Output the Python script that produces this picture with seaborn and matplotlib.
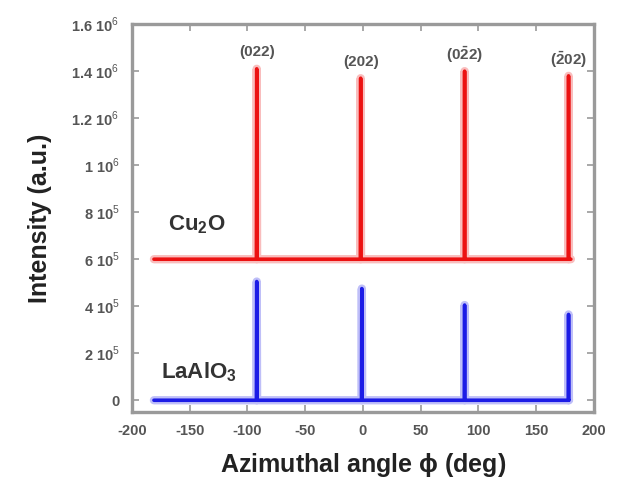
import numpy as np
import pandas as pd
import matplotlib
matplotlib.use("Agg")
import matplotlib.pyplot as plt
import seaborn as sns

# ===== data =====
phi_range = [-181, 180]                     # azimuthal scan limits (deg)
cu2o_pos = [-92, -2, 88, 178]               # peak positions (deg)
cu2o_peak = [1.41e6, 1.37e6, 1.40e6, 1.38e6]
cu2o_base = 6.0e5
lao_pos = [-92, -1, 88, 178]
lao_peak = [5.05e5, 4.75e5, 4.05e5, 3.65e5]
lao_base = 0.0
miller = ["(022)", "(202)", r"(0$\mathbf{\bar{2}}$2)", r"($\mathbf{\bar{2}}$02)"]

xtick_vals = [-200, -150, -100, -50, 0, 50, 100, 150, 200]
ytick_vals = [0, 2e5, 4e5, 6e5, 8e5, 1e6, 1.2e6, 1.4e6, 1.6e6]
ytick_labels = ["0", r"2 10$^5$", r"4 10$^5$", r"6 10$^5$", r"8 10$^5$",
                r"1 10$^6$", r"1.2 10$^6$", r"1.4 10$^6$", r"1.6 10$^6$"]


def stick_trace(pos, peak, base, end):
    """baseline with narrow peaks -> x, y lists"""
    xs, ys = [phi_range[0]], [base]
    for p, h in zip(pos, peak):
        xs += [p - 0.3, p, p + 0.3]
        ys += [base, h, base]
    if end > xs[-1]:
        xs.append(end)
        ys.append(base)
    return pd.DataFrame({"phi": xs, "I": ys})


cu2o = stick_trace(cu2o_pos, cu2o_peak, cu2o_base, phi_range[1])
lao = stick_trace(lao_pos, lao_peak, lao_base, 178.4)

# ===== plot =====
sns.set_style("ticks")
plt.rcParams["font.family"] = ["Liberation Sans", "DejaVu Sans"]
plt.rcParams["mathtext.fontset"] = "custom"
plt.rcParams["mathtext.rm"] = "Liberation Sans"
plt.rcParams["mathtext.bf"] = "Liberation Sans:bold"
plt.rcParams["axes.unicode_minus"] = False

fig = plt.figure(figsize=(6.18, 4.83), dpi=100)
ax = fig.add_axes([0.2136, 0.147, 0.7475, 0.803])

red, blue = "#ec1212", "#1c1ce6"
for df, c in [(cu2o, red), (lao, blue)]:
    sns.lineplot(data=df, x="phi", y="I", sort=False, estimator=None,
                 color=c, lw=6, alpha=0.28, ax=ax)
    sns.lineplot(data=df, x="phi", y="I", sort=False, estimator=None,
                 color=c, lw=2.6, ax=ax)

ax.set_xlim(-200, 200)
ax.set_ylim(-5e4, 1.6e6)
ax.set_xticks(xtick_vals)
ax.set_yticks(ytick_vals)
ax.set_yticklabels(ytick_labels)

for s in ax.spines.values():
    s.set_color("#9a9a9a")
    s.set_linewidth(2.4)
    s.set_visible(True)
ax.tick_params(direction="in", length=5, width=1.2, color="#9a9a9a",
               top=True, right=True, labelsize=10.5, labelcolor="#555555", pad=9)
for t in ax.get_xticklabels() + ax.get_yticklabels():
    t.set_fontweight("bold")

ax.set_xlabel(r"Azimuthal angle $\mathbf{\phi}$ (deg)", fontsize=18,
              fontweight="bold", color="#222222", labelpad=9)
ax.set_ylabel("Intensity (a.u.)", fontsize=18, fontweight="bold",
              color="#222222", labelpad=14)

for p, h, lab in zip(cu2o_pos, cu2o_peak, miller):
    ax.text(p, h + 7e4, lab, ha="center", va="center", fontsize=11,
            fontweight="bold", color="#555555")

ax.text(-169, 7.45e5, r"Cu$_\mathbf{2}$O", fontsize=16, fontweight="bold",
        color="#333333", va="center")
ax.text(-175, 1.18e5, r"LaAlO$_\mathbf{3}$", fontsize=16, fontweight="bold",
        color="#333333", va="center")

plt.savefig("out.png", dpi=100)
